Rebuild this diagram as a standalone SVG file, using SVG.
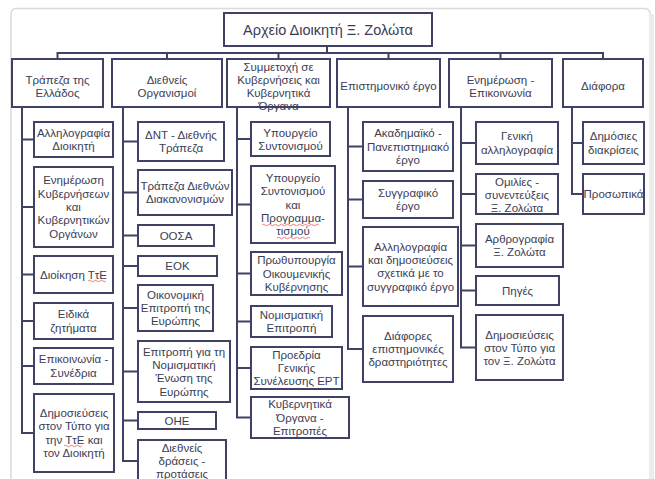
<svg xmlns="http://www.w3.org/2000/svg" width="655" height="479" viewBox="0 0 655 479">
  <style>
    .box { fill: #ffffff; stroke: #3f4264; stroke-width: 2; }
    .wire { fill: none; stroke: #3f4264; stroke-width: 2; }
    .t { font-family: "Liberation Sans", "DejaVu Sans", sans-serif; font-size: 11.5px; fill: #3b3d55; text-anchor: middle; dominant-baseline: central; }
    .h { font-size: 11.5px; }
    .root { font-size: 14.5px; }
    .spell { fill: none; stroke: #e06060; stroke-width: 0.8; }
  </style>

  <!-- page frame -->
  <rect x="0" y="0" width="655" height="479" fill="#ffffff"/>
  <rect x="11" y="8.5" width="639" height="490" rx="5" fill="none" stroke="#dadada" stroke-width="1.5"/>
  <rect x="649" y="14" width="5" height="465" fill="#ececec"/>

  <!-- connectors -->
  <g id="connectors">
    <path class="wire" d="M327,46 V53 M57.5,59 V53 H603 V59 M167,53 V59 M278.5,53 V59 M388.5,53 V59 M500.5,53 V59"/>
    <path class="wire" d="M22,107 V433 H34 M22,139.5 H34 M22,207 H34 M22,274.5 H34 M22,321 H34 M22,366 H34"/>
    <path class="wire" d="M123,107 V461 H138 M123,141.5 H138 M123,192.5 H138 M123,235.5 H138 M123,266 H138 M123,308 H138 M123,371.5 H138 M123,420.5 H138"/>
    <path class="wire" d="M237,107 V417.5 H251 M237,139 H251 M237,204.5 H251 M237,273.5 H251 M237,321.5 H251 M237,368 H251"/>
    <path class="wire" d="M348,107 V349 H363 M348,146.5 H363 M348,199.5 H363 M348,266.5 H363"/>
    <path class="wire" d="M461,107 V347.5 H476 M461,143 H476 M461,194 H476 M461,245.5 H476 M461,290.5 H476"/>
    <path class="wire" d="M572,107 V194 H583 M572,143 H583"/>
  </g>

  <!-- root -->
  <g id="root">
    <rect class="box" x="224" y="13" width="208" height="33"/>
    <text class="t root" x="328" y="29.5">Αρχείο Διοικητή Ξ. Ζολώτα</text>
  </g>

  <!-- top level categories -->
  <g id="cat-bank">
    <rect class="box" x="12" y="59" width="91" height="48"/>
    <text class="t h"><tspan x="57.5" y="80">Τράπεζα της</tspan><tspan x="57.5" y="93">Ελλάδος</tspan></text>
  </g>
  <g id="cat-intl">
    <rect class="box" x="112" y="59" width="110" height="48"/>
    <text class="t h"><tspan x="167" y="80">Διεθνείς</tspan><tspan x="167" y="93">Οργανισμοί</tspan></text>
  </g>
  <g id="cat-gov">
    <rect class="box" x="227" y="59" width="103" height="48"/>
    <text class="t h"><tspan x="278.5" y="67">Συμμετοχή σε</tspan><tspan x="278.5" y="80">Κυβερνήσεις και</tspan><tspan x="278.5" y="93">Κυβερνητικά</tspan><tspan x="278.5" y="106">Όργανα</tspan></text>
  </g>
  <g id="cat-science">
    <rect class="box" x="337" y="59" width="103" height="48"/>
    <text class="t h" x="388.5" y="86">Επιστημονικό έργο</text>
  </g>
  <g id="cat-comm">
    <rect class="box" x="449" y="59" width="103" height="48"/>
    <text class="t h"><tspan x="500.5" y="80">Ενημέρωση -</tspan><tspan x="500.5" y="93">Επικοινωνία</tspan></text>
  </g>
  <g id="cat-misc">
    <rect class="box" x="563" y="59" width="80" height="48"/>
    <text class="t h" x="603" y="86">Διάφορα</text>
  </g>

  <!-- column 1 -->
  <g id="bank-1">
    <rect class="box" x="34" y="122" width="79" height="35"/>
    <text class="t"><tspan x="73.5" y="133">Αλληλογραφία</tspan><tspan x="73.5" y="146">Διοικητή</tspan></text>
  </g>
  <g id="bank-2">
    <rect class="box" x="34" y="167" width="79" height="80"/>
    <text class="t"><tspan x="73.5" y="180.4">Ενημέρωση</tspan><tspan x="73.5" y="193.7">Κυβερνήσεων</tspan><tspan x="73.5" y="207">και</tspan><tspan x="73.5" y="220.3">Κυβερνητικών</tspan><tspan x="73.5" y="233.6">Οργάνων</tspan></text>
  </g>
  <g id="bank-3">
    <rect class="box" x="34" y="256" width="79" height="37"/>
    <text class="t" x="73.5" y="274.5">Διοίκηση ΤτΕ</text>
    <path class="spell" d="M88,281 q1.5,-1.5 3,0 t3,0 t3,0 t3,0 t3,0 t3,0"/>
  </g>
  <g id="bank-4">
    <rect class="box" x="34" y="303" width="79" height="36"/>
    <text class="t"><tspan x="73.5" y="314.4">Ειδικά</tspan><tspan x="73.5" y="327.7">ζητήματα</tspan></text>
  </g>
  <g id="bank-5">
    <rect class="box" x="34" y="348" width="79" height="36"/>
    <text class="t"><tspan x="73.5" y="359.4">Επικοινωνία -</tspan><tspan x="73.5" y="372.7">Συνέδρια</tspan></text>
  </g>
  <g id="bank-6">
    <rect class="box" x="34" y="394" width="80" height="78"/>
    <text class="t"><tspan x="74" y="413">Δημοσιεύσεις</tspan><tspan x="74" y="426.3">στον Τύπο για</tspan><tspan x="74" y="439.7">την ΤτΕ και</tspan><tspan x="74" y="453">τον Διοικητή</tspan></text>
    <path class="spell" d="M64,446 q1.5,-1.5 3,0 t3,0 t3,0 t3,0 t3,0 t3,0"/>
  </g>

  <!-- column 2 -->
  <g id="intl-1">
    <rect class="box" x="138" y="122" width="86" height="39"/>
    <text class="t"><tspan x="181" y="135">ΔΝΤ - Διεθνής</tspan><tspan x="181" y="148">Τράπεζα</tspan></text>
  </g>
  <g id="intl-2">
    <rect class="box" x="138" y="170" width="94" height="45"/>
    <text class="t"><tspan x="185" y="186">Τράπεζα Διεθνών</tspan><tspan x="185" y="199">Διακανονισμών</tspan></text>
  </g>
  <g id="intl-3">
    <rect class="box" x="138" y="225" width="76" height="21"/>
    <text class="t" x="176" y="235.5">ΟΟΣΑ</text>
  </g>
  <g id="intl-4">
    <rect class="box" x="138" y="256" width="79" height="20"/>
    <text class="t" x="177.5" y="266">ΕΟΚ</text>
  </g>
  <g id="intl-5">
    <rect class="box" x="138" y="285" width="75" height="46"/>
    <text class="t"><tspan x="175.5" y="294.7">Οικονομική</tspan><tspan x="175.5" y="308">Επιτροπή της</tspan><tspan x="175.5" y="321.3">Ευρώπης</tspan></text>
  </g>
  <g id="intl-6">
    <rect class="box" x="138" y="341" width="92" height="61"/>
    <text class="t"><tspan x="184" y="351.5">Επιτροπή για τη</tspan><tspan x="184" y="364.8">Νομισματική</tspan><tspan x="184" y="378.2">Ένωση της</tspan><tspan x="184" y="391.5">Ευρώπης</tspan></text>
  </g>
  <g id="intl-7">
    <rect class="box" x="138" y="412" width="78" height="17"/>
    <text class="t" x="177" y="420.5">ΟΗΕ</text>
  </g>
  <g id="intl-8">
    <rect class="box" x="138" y="440" width="88" height="45"/>
    <text class="t"><tspan x="182" y="447.7">Διεθνείς</tspan><tspan x="182" y="461">δράσεις -</tspan><tspan x="182" y="474.3">προτάσεις</tspan></text>
  </g>

  <!-- column 3 -->
  <g id="gov-1">
    <rect class="box" x="251" y="122" width="79" height="34"/>
    <text class="t"><tspan x="290.5" y="132.5">Υπουργείο</tspan><tspan x="290.5" y="145.5">Συντονισμού</tspan></text>
  </g>
  <g id="gov-2">
    <rect class="box" x="251" y="166" width="84" height="77"/>
    <text class="t"><tspan x="293" y="177.9">Υπουργείο</tspan><tspan x="293" y="191.2">Συντονισμού</tspan><tspan x="293" y="204.5">και</tspan><tspan x="293" y="217.8">Προγραμμα-</tspan><tspan x="293" y="231.1">τισμού</tspan></text>
    <path class="spell" d="M262,225 q1.5,-1.5 3,0 t3,0 t3,0 t3,0 t3,0 t3,0 t3,0 t3,0 t3,0 t3,0 t3,0 t3,0 t3,0 t3,0 t3,0 t3,0 t3,0 t3,0 t3,0 M277,238 q1.5,-1.5 3,0 t3,0 t3,0 t3,0 t3,0 t3,0 t3,0 t3,0 t3,0 t3,0 t3,0"/>
  </g>
  <g id="gov-3">
    <rect class="box" x="251" y="252" width="91" height="43"/>
    <text class="t"><tspan x="296.5" y="260.2">Πρωθυπουργία</tspan><tspan x="296.5" y="273.5">Οικουμενικής</tspan><tspan x="296.5" y="286.8">Κυβέρνησης</tspan></text>
  </g>
  <g id="gov-4">
    <rect class="box" x="251" y="306" width="81" height="31"/>
    <text class="t"><tspan x="291.5" y="314.8">Νομισματική</tspan><tspan x="291.5" y="328.2">Επιτροπή</tspan></text>
  </g>
  <g id="gov-5">
    <rect class="box" x="251" y="347" width="91" height="42"/>
    <text class="t"><tspan x="296.5" y="354.7">Προεδρία</tspan><tspan x="296.5" y="368">Γενικής</tspan><tspan x="296.5" y="381.3">Συνέλευσης ΕΡΤ</tspan></text>
  </g>
  <g id="gov-6">
    <rect class="box" x="251" y="397" width="98" height="41"/>
    <text class="t"><tspan x="300" y="404.2">Κυβερνητικά</tspan><tspan x="300" y="417.5">Όργανα -</tspan><tspan x="300" y="430.8">Επιτροπές</tspan></text>
  </g>

  <!-- column 4 -->
  <g id="sci-1">
    <rect class="box" x="363" y="122" width="90" height="49"/>
    <text class="t"><tspan x="408" y="133.2">Ακαδημαϊκό -</tspan><tspan x="408" y="146.5">Πανεπιστημιακό</tspan><tspan x="408" y="159.8">έργο</tspan></text>
  </g>
  <g id="sci-2">
    <rect class="box" x="363" y="181" width="90" height="37"/>
    <text class="t"><tspan x="408" y="192.8">Συγγραφικό</tspan><tspan x="408" y="206.2">έργο</tspan></text>
  </g>
  <g id="sci-3">
    <rect class="box" x="363" y="227" width="95" height="79"/>
    <text class="t"><tspan x="410.5" y="246.5">Αλληλογραφία</tspan><tspan x="410.5" y="259.8">και δημοσιεύσεις</tspan><tspan x="410.5" y="273.2">σχετικά με το</tspan><tspan x="410.5" y="286.5">συγγραφικό έργο</tspan></text>
  </g>
  <g id="sci-4">
    <rect class="box" x="363" y="316" width="90" height="66"/>
    <text class="t"><tspan x="408" y="335.7">Διάφορες</tspan><tspan x="408" y="349">επιστημονικές</tspan><tspan x="408" y="362.3">δραστηριότητες</tspan></text>
  </g>

  <!-- column 5 -->
  <g id="comm-1">
    <rect class="box" x="476" y="122" width="82" height="42"/>
    <text class="t"><tspan x="517" y="136.4">Γενική</tspan><tspan x="517" y="149.7">αλληλογραφία</tspan></text>
  </g>
  <g id="comm-2">
    <rect class="box" x="476" y="174" width="82" height="40"/>
    <text class="t"><tspan x="517" y="181.7">Ομιλίες -</tspan><tspan x="517" y="195">συνεντεύξεις</tspan><tspan x="517" y="208.3">Ξ. Ζολώτα</tspan></text>
  </g>
  <g id="comm-3">
    <rect class="box" x="476" y="224" width="87" height="43"/>
    <text class="t"><tspan x="519.5" y="238.9">Αρθρογραφία</tspan><tspan x="519.5" y="252.2">Ξ. Ζολώτα</tspan></text>
  </g>
  <g id="comm-4">
    <rect class="box" x="476" y="276" width="83" height="29"/>
    <text class="t" x="517.5" y="290.5">Πηγές</text>
  </g>
  <g id="comm-5">
    <rect class="box" x="476" y="315" width="87" height="65"/>
    <text class="t"><tspan x="519.5" y="334.7">Δημοσιεύσεις</tspan><tspan x="519.5" y="348">στον Τύπο για</tspan><tspan x="519.5" y="361.3">τον Ξ. Ζολώτα</tspan></text>
  </g>

  <!-- column 6 -->
  <g id="misc-1">
    <rect class="box" x="583" y="122" width="61" height="42"/>
    <text class="t"><tspan x="613.5" y="136.4">Δημόσιες</tspan><tspan x="613.5" y="149.7">διακρίσεις</tspan></text>
  </g>
  <g id="misc-2">
    <rect class="box" x="583" y="174" width="61" height="40"/>
    <text class="t" x="613.5" y="194">Προσωπικά</text>
  </g>
</svg>
